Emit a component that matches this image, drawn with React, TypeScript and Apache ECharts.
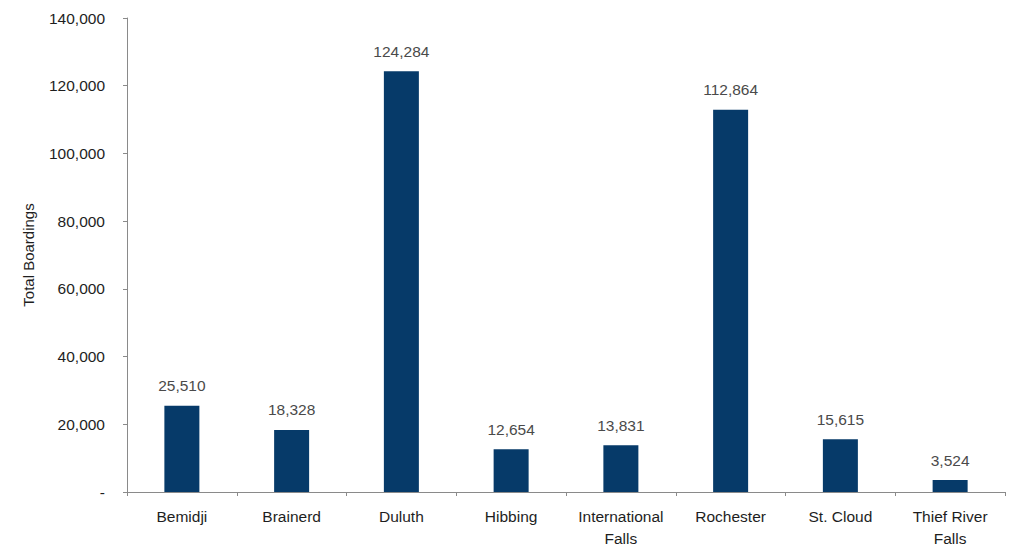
import React, { useEffect, useRef } from "react";
import * as echarts from "echarts";

const categories = ["Bemidji", "Brainerd", "Duluth", "Hibbing", "International\nFalls", "Rochester", "St. Cloud", "Thief River\nFalls"];
const boardings = [25510, 18328, 124284, 12654, 13831, 112864, 15615, 3524];
const yAxisTitle = "Total Boardings";

const FONT = "'Liberation Sans', Arial, sans-serif";

export default function App() {
  const ref = useRef<HTMLDivElement>(null);
  useEffect(() => {
    const chart = echarts.init(ref.current!, null, { renderer: "svg" });
    const fmt = (v: number) => (v === 0 ? "-" : v.toLocaleString("en-US"));
    chart.setOption({
      animation: false,
      grid: { left: 127, right: 8, top: 18, bottom: 54, containLabel: false, outerBoundsMode: "none" },
      xAxis: {
        type: "category",
        data: categories,
        axisLine: { lineStyle: { color: "#8a8a8a", width: 1 } },
        axisTick: { show: true, alignWithLabel: false, length: 4, lineStyle: { color: "#8a8a8a" } },
        axisLabel: { color: "#1e1e1e", fontSize: 15.5, fontFamily: FONT, margin: 13, lineHeight: 22, interval: 0 },
      },
      yAxis: {
        type: "value",
        min: 0,
        max: 140000,
        interval: 20000,
        name: yAxisTitle,
        nameLocation: "middle",
        nameGap: 91,
        nameRotate: 90,
        nameTextStyle: { color: "#1e1e1e", fontSize: 15, fontFamily: FONT },
        axisLine: { show: true, lineStyle: { color: "#8a8a8a", width: 1 } },
        axisTick: { show: true, length: 4, lineStyle: { color: "#8a8a8a" } },
        splitLine: { show: false },
        axisLabel: { color: "#1e1e1e", fontSize: 15.5, fontFamily: FONT, margin: 22, formatter: fmt },
      },
      series: [
        {
          type: "bar",
          data: boardings,
          barWidth: 35,
          itemStyle: { color: "#063a69" },
          label: {
            show: true,
            position: "top",
            distance: 12,
            color: "#4a4a4a",
            fontSize: 15.5,
            fontFamily: FONT,
            formatter: (p: any) => Number(p.value).toLocaleString("en-US"),
          },
        },
      ],
    });
    return () => chart.dispose();
  }, []);
  return <div ref={ref} style={{ width: 1013, height: 546, position: "absolute", left: 0, top: 0, background: "#fff" }} />;
}
